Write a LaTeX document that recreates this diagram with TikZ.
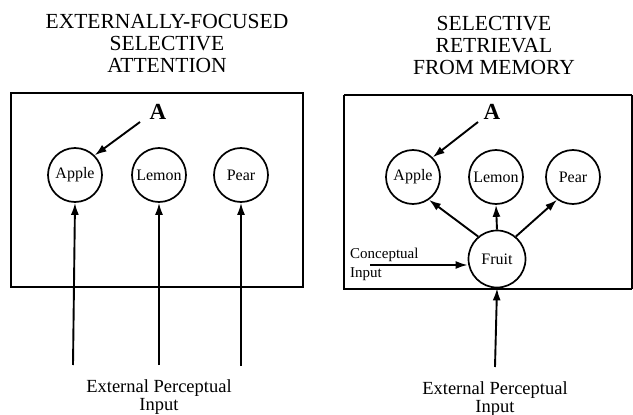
\documentclass[tikz,border=0pt]{standalone}
\usepackage{fontspec}
\setmainfont{Liberation Serif}
\usetikzlibrary{arrows.meta}
\begin{document}
\begin{tikzpicture}[x=1pt,y=-1pt,
  title/.style={font=\fontsize{21.5}{22}\selectfont,align=center,inner sep=0},
  item/.style={circle,draw,line width=1.7pt,minimum size=54pt,inner sep=0,font=\fontsize{16}{16}\selectfont},
  frame/.style={draw,line width=1.7pt},
  arr/.style={line width=1.9pt,-{Latex[length=12pt,width=8pt]}},
  lab/.style={font=\fontsize{18.5}{17.5}\selectfont,align=center,inner sep=0},
  letter/.style={font=\bfseries\fontsize{23}{23}\selectfont,inner sep=0}]
\useasboundingbox (0,0) rectangle (633,415);
% left panel
\node[title] (t1) at (167,43) {EXTERNALLY-FOCUSED\\SELECTIVE\\ATTENTION};
\draw[frame] (11,93) rectangle (303,287);
\node[item] (la) at (75,175) {Apple};
\node[item] (ll) at (159,175) {Lemon};
\node[item] (lp) at (241,175) {Pear};
\node[letter] (lA) at (158,112) {A};
\coordinate (lAs) at (140,122);
\draw[arr] (lAs) -- (la.45);
\coordinate (b1) at (73,365);
\coordinate (b2) at (159,365);
\coordinate (b3) at (241,366);
\draw[arr] (b1) -- (la.south);
\draw[arr] (b2) -- (ll.south);
\draw[arr] (b3) -- (lp.south);
\node[lab] (li) at (159,397) {External Perceptual\\Input};
% right panel
\node[title] (t2) at (494,45) {SELECTIVE\\RETRIEVAL\\FROM MEMORY};
\draw[frame] (344,95) -- (632,95) (344,95) -- (344,289) -- (632,289);
\draw[frame] (632,95) -- (632,289);
\node[item] (ra) at (413,177) {Apple};
\node[item] (rl) at (496,177) {Lemon};
\node[item] (rp) at (573,177) {Pear};
\node[item,minimum size=57pt] (rf) at (497,259) {Fruit};
\node[letter] (rA) at (492,112) {A};
\coordinate (rAs) at (478,122);
\draw[arr] (rAs) -- (ra.45);
\draw[arr] (rf.130) -- (ra.-55);
\draw[arr] (rf.north) -- (rl.south);
\draw[arr] (rf.50) -- (rp.-125);
\node[font=\fontsize{15}{19}\selectfont,align=left,inner sep=0,anchor=west] (ci) at (350,264) {Conceptual\\Input};
\coordinate (cs) at (370,265);
\draw[arr] (cs) -- (rf.west |- cs);
\coordinate (b4) at (495,367);
\draw[arr] (b4) -- (rf.south);
\node[lab] (ri) at (495,399) {External Perceptual\\Input};
\end{tikzpicture}
\end{document}
